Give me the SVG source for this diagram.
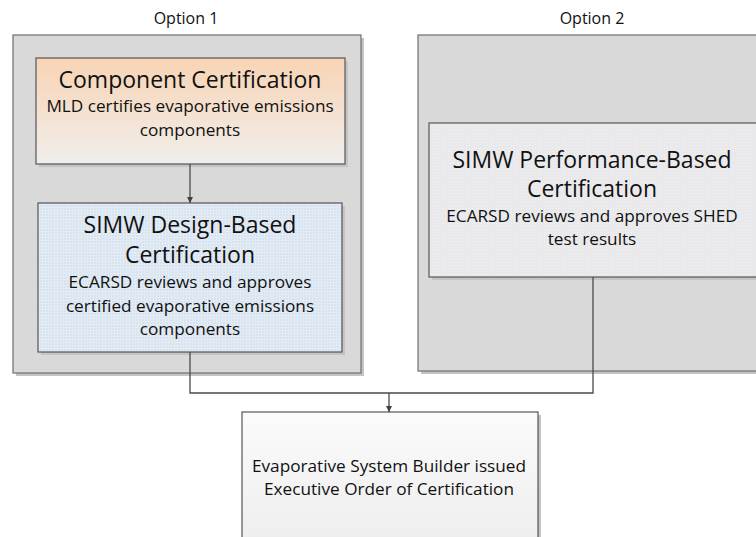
<svg xmlns="http://www.w3.org/2000/svg" width="756" height="537" viewBox="0 0 756 537">
  <defs>
    <linearGradient id="peach" x1="0" y1="0" x2="0" y2="1">
      <stop offset="0" stop-color="#F8D4B4"/>
      <stop offset="1" stop-color="#F0EEEC"/>
    </linearGradient>
    <linearGradient id="paper" x1="0" y1="0" x2="0" y2="1">
      <stop offset="0" stop-color="#FBFBFB"/>
      <stop offset="1" stop-color="#EEEEEE"/>
    </linearGradient>
    <pattern id="grid" width="3" height="3" patternUnits="userSpaceOnUse">
      <rect width="3" height="3" fill="#D7E3EF"/>
      <path d="M0 0.5H3M0.5 0V3" stroke="#E3ECF5" stroke-width="1"/>
    </pattern>
    <pattern id="dots" width="3" height="3" patternUnits="userSpaceOnUse">
      <rect width="3" height="3" fill="#E9E9EC"/>
      <rect x="1" y="1" width="1" height="1" fill="#F1F1F3"/>
    </pattern>
    <marker id="arrow" viewBox="0 0 10 10" refX="10" refY="5" markerWidth="6" markerHeight="6" orient="auto" markerUnits="userSpaceOnUse">
      <path d="M0 0L10 5L0 10Z" fill="#404040"/>
    </marker>
  </defs>
  <style>
    text { font-family: "Open Sans", "Lato", "Liberation Sans", sans-serif; fill: #111; text-anchor: middle; }
    .lbl { font-size: 16px; }
    .title { font-size: 23px; }
    .body { font-size: 17.2px; }
    .container { fill: #D9D9D9; stroke: #6E6E6E; stroke-width: 1.2; }
    .shadow { fill: #C4C4C4; }
    .box { stroke: #555; stroke-width: 1.2; }
    .wire { fill: none; stroke: #4A4A4A; stroke-width: 1.3; }
  </style>

  <!-- Option 1 container -->
  <g id="option1">
    <text class="lbl" x="186" y="24">Option 1</text>
    <rect class="shadow" x="16" y="38" width="348" height="338"/>
    <rect class="container" x="13" y="35" width="348" height="338"/>
  </g>

  <!-- Option 2 container -->
  <g id="option2">
    <text class="lbl" x="592" y="24">Option 2</text>
    <rect class="shadow" x="421" y="38" width="340" height="336"/>
    <rect class="container" x="418" y="35" width="345" height="336"/>
  </g>

  <g id="component-cert">
    <rect class="shadow" x="39" y="61" width="309" height="106"/>
    <rect class="box" x="36" y="58" width="309" height="106" fill="url(#peach)"/>
    <text class="title" x="190" y="88">Component Certification</text>
    <text class="body" x="190" y="112">MLD certifies evaporative emissions</text>
    <text class="body" x="190" y="136">components</text>
  </g>

  <g id="design-based">
    <rect class="shadow" x="41" y="206" width="304" height="149"/>
    <rect class="box" x="38" y="203" width="304" height="149" fill="url(#grid)"/>
    <text class="title" x="190" y="233">SIMW Design-Based</text>
    <text class="title" x="190" y="263">Certification</text>
    <text class="body" x="190" y="288">ECARSD reviews and approves</text>
    <text class="body" x="190" y="312">certified evaporative emissions</text>
    <text class="body" x="190" y="335">components</text>
  </g>

  <g id="performance-based">
    <rect class="shadow" x="432" y="126" width="330" height="154"/>
    <rect class="box" x="429" y="123" width="335" height="154" fill="url(#dots)"/>
    <text class="title" x="592" y="168">SIMW Performance-Based</text>
    <text class="title" x="592" y="197">Certification</text>
    <text class="body" x="592" y="222">ECARSD reviews and approves SHED</text>
    <text class="body" x="592" y="245">test results</text>
  </g>

  <g id="executive-order">
    <rect class="shadow" x="245" y="415" width="296" height="130"/>
    <rect class="box" x="242" y="412" width="296" height="130" fill="url(#paper)"/>
    <text class="body" x="389" y="472">Evaporative System Builder issued</text>
    <text class="body" x="389" y="495">Executive Order of Certification</text>
  </g>

  <!-- connectors -->
  <g id="connectors">
    <path class="wire" d="M190 164V203" marker-end="url(#arrow)"/>
    <path class="wire" d="M190 352V393H593V277"/>
    <path class="wire" d="M389 393V412" marker-end="url(#arrow)"/>
  </g>
</svg>
